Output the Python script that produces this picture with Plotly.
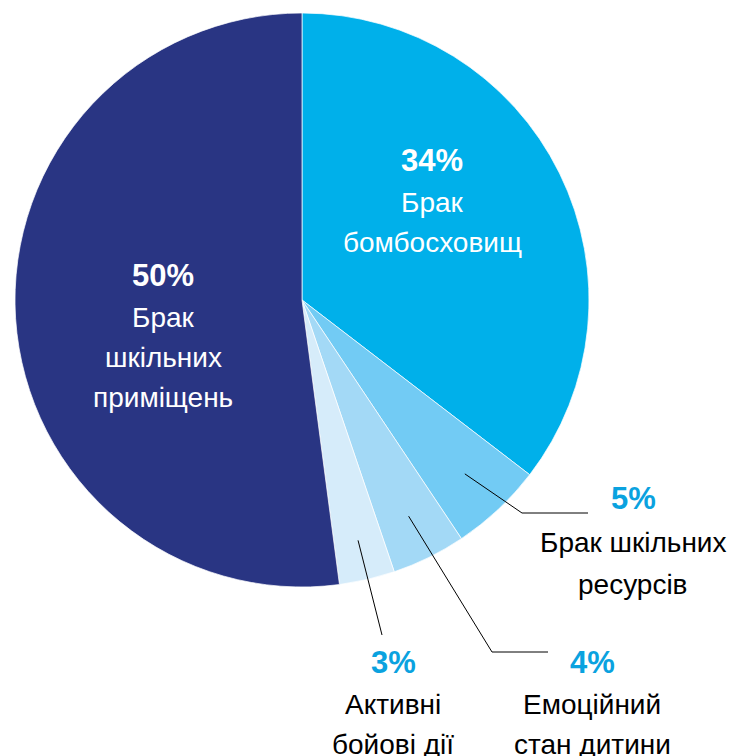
import math
import plotly.graph_objects as go

# Причини, що заважають очному навчанню (частки, %)
labels = ["Брак бомбосховищ", "Брак шкільних ресурсів", "Емоційний стан дитини",
          "Активні бойові дії", "Брак шкільних приміщень"]
values = [34, 5, 4, 3, 50]
colors = ["#00B0EA", "#72CBF4", "#A3D9F6", "#D6ECFA", "#293583"]

W, H = 747, 756
CX, CY, R = 302, 300, 287   # pie centre and radius, px

def px(x, y):
    return x / W, 1 - y / H

x0, y1 = px(CX - R, CY - R)
x1, y0 = px(CX + R, CY + R)

fig = go.Figure(go.Pie(
    labels=labels, values=values, sort=False, direction="clockwise", rotation=0,
    marker=dict(colors=colors, line=dict(color="white", width=0.7)),
    textinfo="none", hoverinfo="skip", showlegend=False,
    domain=dict(x=[x0, x1], y=[y0, y1]),
))

total = sum(values)

def mid_point(i, frac):
    start = sum(values[:i])
    ang = math.radians((start + values[i] / 2) / total * 360)
    return CX + frac * R * math.sin(ang), CY - frac * R * math.cos(ang)

FONT = "Liberation Sans"
BLUE = "#0AA2DF"
annotations = []

def label(x, y, text, size=28, color="black", bold=False):
    ax, ay = px(x, y)
    annotations.append(dict(
        x=ax, y=ay, xref="paper", yref="paper", showarrow=False,
        text=f"<b>{text}</b>" if bold else text,
        font=dict(family=FONT, size=size, color=color),
        xanchor="center", yanchor="middle"))

def block(x, y, pct_color, txt_color, i, lines, step=40):
    label(x, y, f"{values[i]}%", size=31, color=pct_color, bold=True)
    for k, ln in enumerate(lines):
        label(x, y + (k + 1) * step + 2, ln, color=txt_color)

block(432, 160, "white", "white", 0, ["Брак", "бомбосховищ"])
block(163, 275, "white", "white", 4, ["Брак", "шкільних", "приміщень"])
block(633, 498, BLUE, "black", 1, ["Брак шкільних", "ресурсів"], step=42)
block(592, 662, BLUE, "black", 2, ["Емоційний", "стан дитини"])
block(393, 662, BLUE, "black", 3, ["Активні", "бойові дії"])

# Leader lines from the slices to their labels
shapes = []

def path(points):
    d = "M " + " L ".join(f"{px(x, y)[0]},{px(x, y)[1]}" for x, y in points)
    shapes.append(dict(type="path", path=d, xref="paper", yref="paper",
                       line=dict(color="black", width=1)))

s = mid_point(1, 0.83)
path([s, (522, 513), (588, 513)])
s = mid_point(2, 0.84)
path([s, (492, 652), (548, 652)])
s = mid_point(3, 0.86)
path([s, (382, 635)])

fig.update_layout(
    width=W, height=H, margin=dict(l=0, r=0, t=0, b=0),
    paper_bgcolor="white", plot_bgcolor="white",
    annotations=annotations, shapes=shapes,
)

fig.write_html("out.html")
